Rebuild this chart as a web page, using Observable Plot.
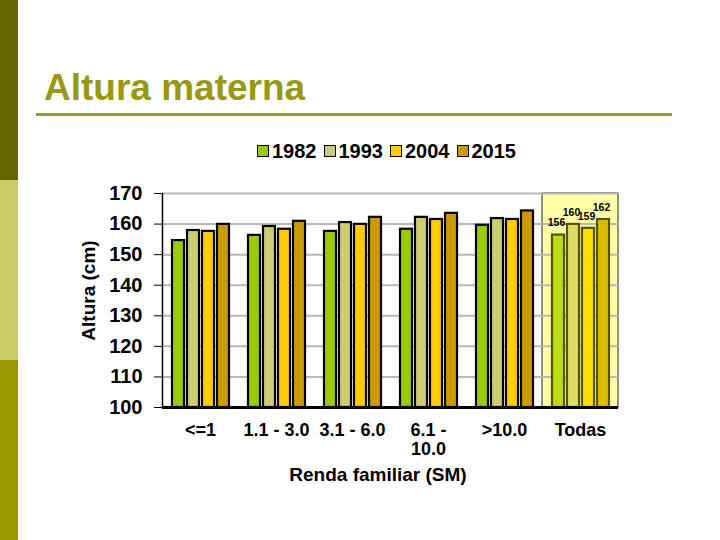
<!DOCTYPE html>
<html>
<head>
<meta charset="utf-8">
<script src="https://cdn.jsdelivr.net/npm/d3@7"></script>
<script src="https://cdn.jsdelivr.net/npm/@observablehq/plot@0.6"></script>
<style>
  html, body { margin: 0; padding: 0; background: #fff; }
  #page { position: relative; width: 720px; height: 540px; overflow: hidden; font-family: "Liberation Sans", Arial, sans-serif; font-weight: bold; }
  .band { position: absolute; left: 0; width: 18px; }
  #title { position: absolute; left: 44px; top: 69px; font-size: 37px; line-height: 37px; color: #999911; white-space: nowrap; }
  #rule { position: absolute; left: 36px; top: 113px; width: 636px; height: 3px; background: #999933; }
  #legend { position: absolute; left: 257px; top: 141px; display: flex; align-items: center; font-size: 20px; line-height: 20px; }
  .item { display: flex; align-items: center; margin-right: 7px; }
  .sw { width: 10px; height: 10px; border: 1.5px solid #000; margin-right: 3px; }
  #chart { position: absolute; left: 0; top: 175px; }
  #xtitle { position: absolute; left: 228px; width: 300px; text-align: center; top: 465px; font-size: 19px; line-height: 19px; }
  #ytitle { position: absolute; left: -12px; width: 200px; top: 281px; text-align: center; font-size: 19px; line-height: 19px; transform: rotate(-90deg); }
</style>
</head>
<body>
<div id="page">
  <div class="band" style="top:0;height:180px;background:#666600"></div>
  <div class="band" style="top:180px;height:180px;background:#cccc66"></div>
  <div class="band" style="top:360px;height:180px;background:#999900"></div>
  <div id="title">Altura materna</div>
  <div id="rule"></div>
  <div id="legend"></div>
  <div id="chart"></div>
  <div id="ytitle">Altura (cm)</div>
  <div id="xtitle">Renda familiar (SM)</div>
</div>
<script>
// ---- data ----
const groups = ["<=1", "1.1 - 3.0", "3.1 - 6.0", "6.1 - 10.0", ">10.0", "Todas"];
const years = ["1982", "1993", "2004", "2015"];
const v1982 = [154.6, 156.3, 157.6, 158.3, 159.6, 156.4];
const v1993 = [157.9, 159.2, 160.5, 162.2, 161.8, 159.9];
const v2004 = [157.6, 158.3, 159.9, 161.5, 161.5, 158.6];
const v2015 = [159.9, 160.9, 162.2, 163.5, 164.3, 161.5];
const todasLabels = ["156", "160", "159", "162"];
const yTicks = [100, 110, 120, 130, 140, 150, 160, 170];
const highlightGroup = ["Todas"];

// ---- styles ----
const colors = ["#99cc00", "#cccc77", "#ffcc00", "#cc9900"];
const todasColors = ["#bbdd11", "#dddd66", "#ffdd00", "#ddbb00"];
const yDomain = [100, 170];

const series = [v1982, v1993, v2004, v2015];
const rows = groups.flatMap((g, i) => years.map((y, j) => ({
  group: g, year: y, yi: j, value: series[j][i],
  label: g === "Todas" ? todasLabels[j] : ""
})));

// legend
const legend = document.getElementById("legend");
years.forEach((y, j) => {
  const it = document.createElement("div");
  it.className = "item";
  const sw = document.createElement("div");
  sw.className = "sw";
  sw.style.background = colors[j];
  const t = document.createElement("span");
  t.textContent = y;
  it.appendChild(sw); it.appendChild(t);
  legend.appendChild(it);
});

const wrapLabel = d => d.length > 9 ? d.replace(" - ", " -\n") : d;

const chart = Plot.plot({
  width: 720,
  height: 310,
  marginLeft: 160,
  marginRight: 100,
  marginTop: 18,
  marginBottom: 78,
  style: { fontFamily: "'Liberation Sans', Arial, sans-serif", fontWeight: "bold", fontSize: "19px", color: "#000", background: "transparent", overflow: "visible" },
  fx: { domain: groups, padding: 0, label: null },
  x: { domain: years, axis: null, paddingInner: 0.23, paddingOuter: 0.58 },
  y: { domain: yDomain, label: null },
  color: { type: "identity" },
  marks: [
    Plot.barY(highlightGroup, { fx: d => d, y1: yDomain[0], y2: yDomain[1], fill: "#ffffa6", stroke: "#222", strokeWidth: 1 }),
    Plot.gridY({ ticks: yTicks, stroke: "#b8b8b8", strokeOpacity: 1, strokeWidth: 2 }),
    Plot.axisY({ ticks: yTicks, tickSize: 8, tickPadding: 12, label: null, fontSize: 20 }),
    Plot.barY(rows, {
      fx: "group", x: "year", y1: yDomain[0], y2: "value",
      fill: d => (d.group === "Todas" ? todasColors : colors)[d.yi],
      stroke: d => d.group === "Todas" ? "#555500" : "#000",
      strokeWidth: 2.2
    }),
    Plot.text(rows.filter(d => d.label), { fx: "group", x: "year", y: "value", text: "label", dy: -12, dx: -2, fontSize: 10.5, fontWeight: "bold" }),
    Plot.ruleY([yDomain[0]], { stroke: "#000", strokeWidth: 3 }),
    Plot.frame({ anchor: "left", facet: "super", stroke: "#000", strokeWidth: 1.5 }),
    Plot.axisFx({ anchor: "bottom", tickSize: 0, tickPadding: 14, tickFormat: wrapLabel, lineHeight: 1.1, label: null, fontSize: 18 })
  ]
});
document.getElementById("chart").appendChild(chart);
</script>
</body>
</html>
